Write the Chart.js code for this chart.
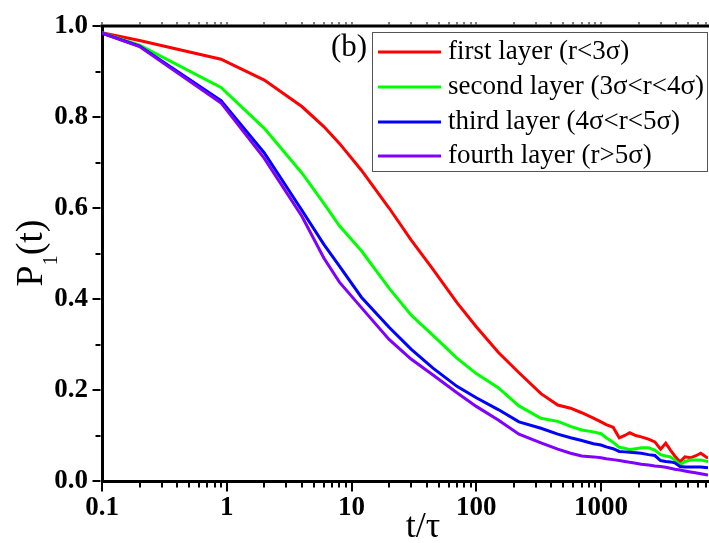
<!DOCTYPE html>
<html>
<head>
<meta charset="utf-8">
<script src="https://cdn.jsdelivr.net/npm/chart.js@4/dist/chart.umd.min.js"></script>
<style>
  html, body { margin: 0; padding: 0; background: #fff; }
  canvas { display: block; }
</style>
</head>
<body>
<canvas id="chart" width="709" height="543"></canvas>
<script>
// dados (t/tau em escala log)
const tValues = [0.1, 0.2, 0.9, 2, 4, 6, 8, 12, 20, 30, 45, 70, 100, 150, 220, 330, 450, 570, 700,
  870, 1000, 1100, 1250, 1400, 1550, 1700, 1900, 2100, 2400, 2700, 3000, 3300, 3600, 3900, 4300, 4700, 5200, 5700, 6300, 7200];

const firstLayer = [0.985, 0.968, 0.927, 0.881, 0.823, 0.779, 0.742, 0.683, 0.600, 0.530, 0.465, 0.392, 0.339, 0.283, 0.238, 0.192, 0.167, 0.160, 0.150,
  0.138, 0.130, 0.124, 0.118, 0.095, 0.100, 0.106, 0.100, 0.097, 0.092, 0.086, 0.070, 0.083, 0.068, 0.055, 0.042, 0.053, 0.051, 0.055, 0.061, 0.050];
const secondLayer = [0.985, 0.958, 0.865, 0.775, 0.677, 0.610, 0.561, 0.506, 0.424, 0.365, 0.320, 0.270, 0.236, 0.205, 0.165, 0.138, 0.131, 0.120, 0.112,
  0.108, 0.104, 0.095, 0.085, 0.074, 0.072, 0.069, 0.071, 0.073, 0.073, 0.068, 0.058, 0.055, 0.053, 0.046, 0.036, 0.043, 0.046, 0.046, 0.046, 0.043];
const thirdLayer = [0.984, 0.956, 0.836, 0.721, 0.595, 0.520, 0.472, 0.404, 0.338, 0.290, 0.248, 0.208, 0.183, 0.157, 0.130, 0.116, 0.103, 0.095, 0.089,
  0.082, 0.079, 0.075, 0.071, 0.065, 0.064, 0.063, 0.062, 0.061, 0.058, 0.056, 0.045, 0.043, 0.042, 0.040, 0.032, 0.031, 0.031, 0.031, 0.031, 0.029];
const fourthLayer = [0.984, 0.955, 0.831, 0.709, 0.582, 0.490, 0.437, 0.381, 0.311, 0.268, 0.233, 0.194, 0.164, 0.134, 0.103, 0.084, 0.070, 0.061, 0.055,
  0.053, 0.051, 0.049, 0.047, 0.045, 0.043, 0.041, 0.039, 0.037, 0.035, 0.033, 0.032, 0.030, 0.028, 0.026, 0.024, 0.022, 0.020, 0.018, 0.016, 0.013];

const seriesLabels = ['first layer (r<3σ)', 'second layer (3σ<r<4σ)', 'third layer (4σ<r<5σ)', 'fourth layer (r>5σ)'];
const seriesColors = ['#ff0000', '#00ff00', '#0000ff', '#8000ff'];
const xTickLabels = ['0.1', '1', '10', '100', '1000'];
const yTickLabels = ['0.0', '0.2', '0.4', '0.6', '0.8', '1.0'];

const SERIF = "'Liberation Serif', 'Times New Roman', serif";

function toPoints(ys) {
  return ys.map((y, i) => ({ x: tValues[i], y: y }));
}

function isDecade(v) {
  const l = Math.log10(v);
  return Math.abs(l - Math.round(l)) < 1e-6;
}

// ticks, titulos, legenda e o (b)
const framePlugin = {
  id: 'frame',
  afterDraw(chart) {
    const ctx = chart.ctx;
    const area = chart.chartArea;
    const xs = chart.scales.x;
    const ys = chart.scales.y;
    ctx.save();

    // linha de cima
    ctx.strokeStyle = '#000';
    ctx.lineWidth = 3;
    ctx.beginPath();
    ctx.moveTo(area.left - 1.5, area.top);
    ctx.lineTo(chart.width, area.top);
    ctx.stroke();

    // ticks do eixo y
    ctx.lineWidth = 2;
    for (let i = 0; i <= 10; i++) {
      const py = Math.round(ys.getPixelForValue(i / 10));
      const len = i % 2 === 0 ? 8 : 5;
      ctx.beginPath();
      ctx.moveTo(area.left - 1.5, py);
      ctx.lineTo(area.left - 1.5 - len, py);
      ctx.stroke();
    }

    // ticks do eixo x
    xs.ticks.forEach(t => {
      const px = Math.round(xs.getPixelForValue(t.value));
      const len = isDecade(t.value) ? 9 : 5;
      ctx.lineWidth = 2;
      ctx.beginPath();
      ctx.moveTo(px, area.bottom + 1.5);
      ctx.lineTo(px, area.bottom + 1.5 + len);
      ctx.stroke();
      ctx.lineWidth = 1;
      ctx.beginPath();
      ctx.moveTo(px, area.top - 1.5);
      ctx.lineTo(px, area.top - 4);
      ctx.stroke();
    });

    // titulo x
    ctx.fillStyle = '#000';
    ctx.font = '36px ' + SERIF;
    ctx.textAlign = 'center';
    ctx.textBaseline = 'alphabetic';
    ctx.fillText('t/τ', 423, 537);

    // titulo y com subscrito
    ctx.save();
    ctx.translate(42, 253);
    ctx.rotate(-Math.PI / 2);
    ctx.textAlign = 'left';
    const big = '38px ' + SERIF;
    const small = '20px ' + SERIF;
    ctx.font = big;
    const wP = ctx.measureText('P').width;
    const wT = ctx.measureText('(t)').width;
    ctx.font = small;
    const w1 = ctx.measureText('1').width;
    let u = -(wP + w1 + wT) / 2;
    ctx.font = big;
    ctx.fillText('P', u, 0);
    u += wP;
    ctx.font = small;
    ctx.fillText('1', u, 15);
    u += w1;
    ctx.font = big;
    ctx.fillText('(t)', u, 0);
    ctx.restore();

    // (b)
    ctx.font = '31px ' + SERIF;
    ctx.textAlign = 'left';
    ctx.fillText('(b)', 331, 56);

    // legenda
    const box = { x: 372, y: 32, w: 336, h: 140 };
    ctx.fillStyle = '#fff';
    ctx.fillRect(box.x, box.y, box.w, box.h);
    ctx.strokeStyle = '#555';
    ctx.lineWidth = 1;
    ctx.strokeRect(box.x + 0.5, box.y + 0.5, box.w - 1, box.h - 1);
    const rows = [52, 87, 122, 156];
    ctx.font = '27px ' + SERIF;
    ctx.textBaseline = 'middle';
    chart.data.datasets.forEach((ds, i) => {
      ctx.strokeStyle = ds.borderColor;
      ctx.lineWidth = 3;
      ctx.beginPath();
      ctx.moveTo(378, rows[i]);
      ctx.lineTo(441, rows[i]);
      ctx.stroke();
      ctx.fillStyle = '#000';
      ctx.fillText(ds.label, 448, rows[i]);
    });

    ctx.restore();
  }
};

const ctx = document.getElementById('chart').getContext('2d');
new Chart(ctx, {
  type: 'line',
  data: {
    datasets: [firstLayer, secondLayer, thirdLayer, fourthLayer].map((ys, i) => ({
      label: seriesLabels[i],
      data: toPoints(ys),
      borderColor: seriesColors[i],
      backgroundColor: seriesColors[i],
      borderWidth: 3,
      pointRadius: 0,
      tension: 0,
      fill: false,
      order: 3 - i
    }))
  },
  options: {
    responsive: false,
    animation: false,
    devicePixelRatio: 1,
    layout: { padding: { left: 0, top: 26, right: 1, bottom: 0 } },
    plugins: {
      legend: { display: false },
      tooltip: { enabled: false }
    },
    scales: {
      x: {
        type: 'logarithmic',
        min: 0.1,
        max: 7200,
        afterFit(scale) { scale.height = 62; },
        afterBuildTicks(scale) {
          const ticks = [];
          for (let e = -1; e <= 3; e++) {
            for (let m = 1; m <= 9; m++) {
              const v = parseFloat((m * Math.pow(10, e)).toPrecision(6));
              if (v >= 0.1 && v <= 7200) ticks.push({ value: v });
            }
          }
          scale.ticks = ticks;
        },
        grid: { display: false, drawTicks: true, tickLength: 9 },
        border: { display: true, color: '#000', width: 3 },
        ticks: {
          autoSkip: false,
          maxRotation: 0,
          padding: 2,
          color: '#000',
          font: { family: SERIF, size: 27, weight: 'bold' },
          callback(value) {
            if (!isDecade(value)) return '';
            const k = Math.round(Math.log10(value)) + 1;
            return xTickLabels[k];
          }
        }
      },
      y: {
        min: 0,
        max: 1,
        afterFit(scale) { scale.width = 102; },
        grid: { display: false, drawTicks: true, tickLength: 8 },
        border: { display: true, color: '#000', width: 3 },
        ticks: {
          stepSize: 0.1,
          autoSkip: false,
          padding: 6,
          color: '#000',
          font: { family: SERIF, size: 27, weight: 'bold' },
          callback(value) {
            const k = Math.round(value * 10);
            return k % 2 === 0 ? yTickLabels[k / 2] : '';
          }
        }
      }
    }
  },
  plugins: [framePlugin]
});
</script>
</body>
</html>
